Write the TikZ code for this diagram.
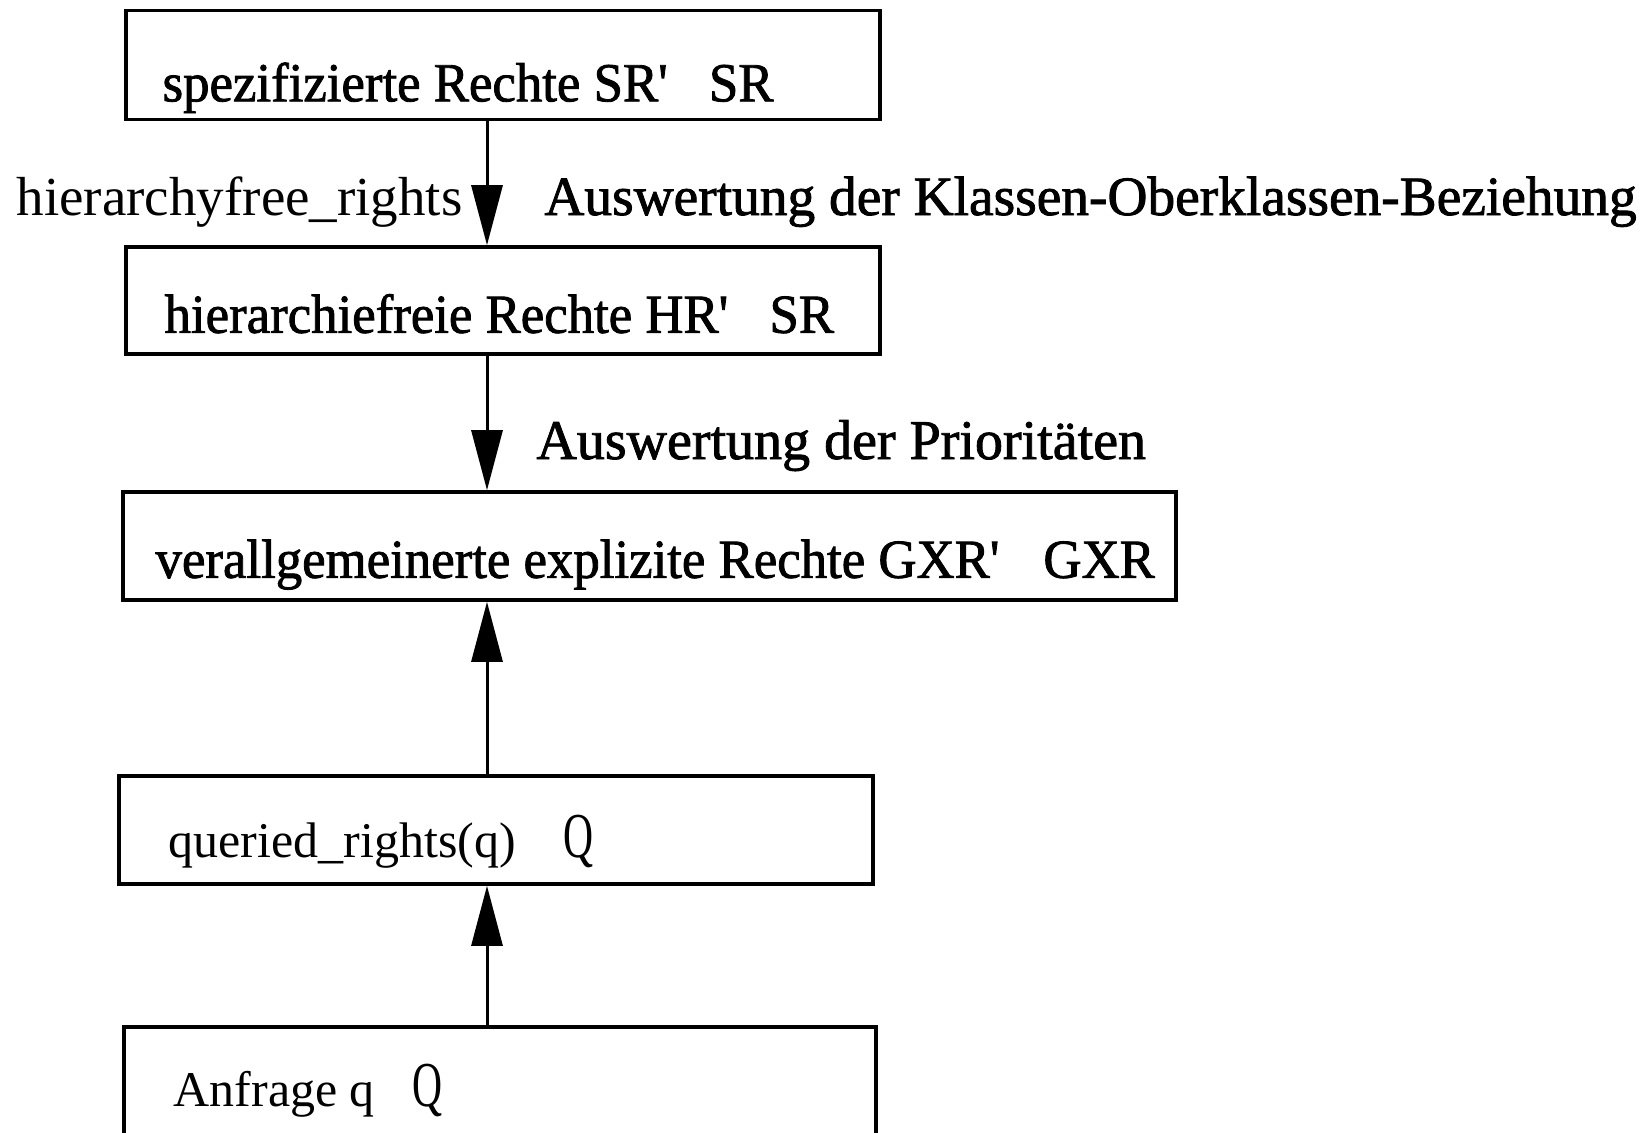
\documentclass[tikz,border=0pt]{standalone}
\usepackage{fontspec}
\setmainfont{Liberation Serif}
\newfontfamily\heavyfont[FakeBold=1.5]{Liberation Serif}
\newfontfamily\boxfont[FakeBold=1.5,FakeStretch=0.96]{Liberation Serif}
\newfontfamily\qfont[FakeStretch=0.65]{Liberation Serif}
\newcommand{\bigq}{{\qfont\fontsize{32}{34}\selectfont Q}}
\usetikzlibrary{arrows.meta,calc}

\begin{document}
\begin{tikzpicture}[x=0.5pt, y=-0.5pt,
  box/.style={draw, line width=1.8pt, inner sep=0pt, minimum width=377pt, minimum height=54pt},
  ar/.style={-{Triangle[length=30pt,width=15.5pt]}, line width=1.5pt},
  txt/.style={anchor=base west, inner sep=0pt, font=\heavyfont\fontsize{27.7}{30}\selectfont},
  boxtxt/.style={anchor=base west, inner sep=0pt, font=\boxfont\fontsize{27.5}{30}\selectfont},
  tim/.style={anchor=base west, inner sep=0pt, font=\fontsize{25}{28}\selectfont}
]
\useasboundingbox (0,0) rectangle (1643,1132);
\coordinate (ax) at (487,0);

% boxes
\node[box, minimum height=54.5pt] (sr) at (503,65) {};
\node[box, minimum height=53.5pt] (hr) at (503,300.5) {};
\node[box, minimum width=526.5pt] (gxr) at (649.5,546) {};
\node[box] (qr) at (496,830) {};
\node[box, minimum width=376pt, minimum height=56.5pt] (aq) at (500,1083.5) {};

% texts in the boxes
\node[boxtxt] (srtxt) at ($(sr.south west)+(38,-20)$) {spezifizierte Rechte SR'\hspace{0.75em}SR};
\node[boxtxt] (hrtxt) at ($(hr.south west)+(40,-23)$) {hierarchiefreie Rechte HR'\hspace{0.75em}SR};
\node[boxtxt] (gxrtxt) at ($(gxr.south west)+(34,-24)$) {verallgemeinerte explizite Rechte GXR'\hspace{0.8em}GXR};
\node[tim] (qrtxt) at ($(qr.south west)+(51,-28)$) {queried\_rights(q)\hspace{24pt}\bigq};
\node[tim] (aqtxt) at ($(aq.north west)+(51,81)$) {Anfrage q\hspace{19pt}\bigq};

% arrows
\draw[ar] (ax |- sr.south) -- (ax |- hr.north);
\draw[ar] (ax |- hr.south) -- (ax |- gxr.north);
\draw[ar] (ax |- qr.north) -- (ax |- gxr.south);
\draw[ar] (ax |- aq.north) -- (ax |- qr.south);

% labels beside the arrows
\node[tim, anchor=base east, font=\fontsize{27.5}{30}\selectfont] (hfr) at (463,215) {hierarchyfree\_rights};
\node[txt] (klasse) at (544,215) {Auswertung der Klassen-Oberklassen-Beziehung};
\node[txt, font=\heavyfont\fontsize{28}{30}\selectfont] (prio) at (536,459) {Auswertung der Prioritäten};
\end{tikzpicture}
\end{document}
